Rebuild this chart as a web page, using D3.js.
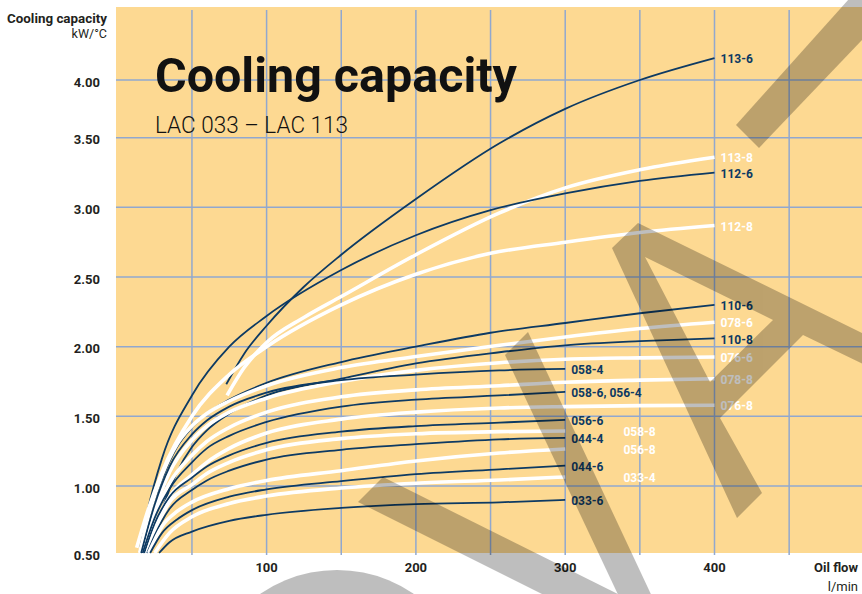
<!DOCTYPE html>
<html>
<head>
<meta charset="utf-8">
<script src="https://cdn.jsdelivr.net/npm/d3@7"></script>
<style>
  body { margin: 0; background: #fff; }
  svg { display: block; font-family: Roboto, "DejaVu Sans", sans-serif; }
</style>
</head>
<body>
<svg id="chart" width="862" height="594"></svg>
<script>
// ticks
var yTicks = [0.5, 1, 1.5, 2, 2.5, 3, 3.5, 4];
var xGrid = [50, 100, 150, 200, 250, 300, 350, 400, 450];
var xTickLabels = [100, 200, 300, 400];

// curves: [oil flow l/min, capacity kW/°C]
var c113_6 = [[73,1.73],[85,1.95],[100,2.15],[125,2.43],[150,2.66],[200,3.06],[256,3.46],[300,3.75],[350,4.0],[400,4.19]];
var c113_8 = [[73.5,1.65],[85,1.85],[100,2.03],[125,2.21],[150,2.36],[200,2.66],[256,2.96],[300,3.14],[350,3.27],[400,3.36]];
var c112_6 = [[15,0.52],[20,0.8],[30,1.2],[50,1.65],[75,2.0],[100,2.22],[150,2.55],[200,2.8],[250,2.98],[300,3.1],[350,3.19],[400,3.25]];
var c112_8 = [[13,0.54],[20,0.8],[30,1.1],[50,1.5],[75,1.8],[100,2.0],[150,2.3],[200,2.52],[250,2.67],[300,2.75],[350,2.82],[400,2.87]];
var c110_6 = [[16,0.5],[20,0.72],[30,1.05],[40,1.28],[50,1.42],[60,1.52],[75,1.62],[100,1.74],[150,1.89],[200,2.0],[250,2.1],[300,2.17],[350,2.24],[400,2.3]];
var c078_6 = [[15,0.5],[20,0.74],[30,1.08],[40,1.3],[50,1.43],[60,1.52],[75,1.61],[100,1.72],[150,1.85],[200,1.93],[256,2.01],[300,2.07],[350,2.13],[400,2.175]];
var c110_8 = [[25,0.62],[30,0.82],[40,1.1],[50,1.28],[60,1.4],[75,1.52],[100,1.65],[150,1.77],[200,1.88],[256,1.96],[300,2.01],[350,2.04],[400,2.06]];
var c076_6 = [[17,0.5],[25,0.82],[35,1.1],[50,1.33],[60,1.43],[75,1.53],[100,1.63],[150,1.75],[200,1.83],[256,1.885],[300,1.91],[350,1.92],[400,1.926]];
var c058_4 = [[16,0.5],[25,0.86],[35,1.14],[50,1.37],[60,1.47],[75,1.57],[100,1.67],[150,1.76],[200,1.80],[256,1.83],[300,1.84]];
var c078_8 = [[18,0.5],[25,0.78],[35,1.02],[50,1.22],[60,1.32],[75,1.42],[100,1.53],[150,1.64],[200,1.69],[256,1.72],[300,1.745],[350,1.76],[400,1.77]];
var c058_6 = [[17,0.5],[25,0.76],[35,0.98],[50,1.17],[60,1.27],[75,1.36],[100,1.46],[150,1.57],[200,1.62],[256,1.65],[300,1.675]];
var c076_8 = [[19,0.5],[25,0.7],[35,0.92],[50,1.08],[60,1.17],[75,1.27],[100,1.38],[150,1.48],[200,1.53],[256,1.56],[300,1.57],[350,1.577],[400,1.58]];
var c056_6 = [[18,0.5],[25,0.72],[35,0.92],[50,1.06],[60,1.14],[75,1.22],[100,1.31],[150,1.39],[200,1.43],[256,1.455],[300,1.474]];
var c058_8 = [[20,0.5],[25,0.66],[35,0.88],[50,1.01],[60,1.09],[75,1.17],[100,1.26],[150,1.34],[200,1.375],[256,1.39],[300,1.395]];
var c044_4 = [[20,0.5],[25,0.63],[35,0.83],[50,0.97],[60,1.04],[75,1.11],[100,1.19],[150,1.26],[200,1.3],[256,1.335],[300,1.345]];
var c056_8 = [[21,0.5],[30,0.7],[40,0.81],[50,0.88],[75,0.98],[100,1.04],[150,1.11],[200,1.18],[256,1.237],[300,1.266]];
var c044_6 = [[22,0.5],[30,0.65],[40,0.75],[50,0.82],[75,0.92],[100,0.975],[150,1.035],[200,1.085],[256,1.12],[300,1.146]];
var c033_4 = [[25,0.5],[35,0.65],[50,0.77],[75,0.87],[100,0.925],[150,0.985],[200,1.02],[256,1.043],[300,1.065]];
var c033_6 = [[28,0.5],[35,0.58],[50,0.66],[75,0.74],[100,0.785],[150,0.836],[200,0.865],[256,0.878],[300,0.896]];

var seriesNames = ["113-6","113-8","112-6","112-8","110-6","078-6","110-8","076-6","058-4","078-8",
                   "058-6, 056-4","076-8","056-6","058-8","044-4","056-8","044-6","033-4","033-6"];
var seriesTone  = ["d","w","d","w","d","w","d","w","d","w","d","w","d","w","d","w","d","w","d"];
var seriesData  = [c113_6,c113_8,c112_6,c112_8,c110_6,c078_6,c110_8,c076_6,c058_4,c078_8,
                   c058_6,c076_8,c056_6,c058_8,c044_4,c056_8,c044_6,c033_4,c033_6];
// labels that sit out to the right of their curve end
var farLabels = ["058-8","056-8","033-4"];

var W = 862, H = 594;
var svg = d3.select("#chart");
var x = d3.scaleLinear().domain([0, 500]).range([117.3, 863.8]);
var y = d3.scaleLinear().domain([0.5, 1, 3.5, 4]).range([553, 486, 137.7, 80]);

var navy = "#0d3a63";

// plot background
svg.append("rect").attr("x", 116).attr("y", 7).attr("width", W - 116).attr("height", 546)
  .attr("fill", "#fdd992");

// grid
svg.append("g").selectAll("line").data(xGrid).join("line")
  .attr("x1", d => x(d)).attr("x2", d => x(d))
  .attr("y1", 10).attr("y2", 555)
  .attr("stroke", "#91a8cf").attr("stroke-width", 1.5);
svg.append("g").selectAll("line").data(yTicks.slice(1)).join("line")
  .attr("x1", 116).attr("x2", W)
  .attr("y1", d => y(d)).attr("y2", d => y(d))
  .attr("stroke", "#91a8cf").attr("stroke-width", 1.5);

// title
svg.append("text").attr("x", 155).attr("y", 92).text("Cooling capacity")
  .attr("font-size", 48).attr("font-weight", 700).attr("fill", "#111")
  .attr("textLength", 362).attr("lengthAdjust", "spacingAndGlyphs");
svg.append("text").attr("x", 155).attr("y", 133).text("LAC 033 \u2013 LAC 113")
  .attr("font-size", 24).attr("font-weight", 300).attr("fill", "#111")
  .attr("textLength", 193).attr("lengthAdjust", "spacingAndGlyphs");

// axis texts
svg.append("text").attr("x", 107).attr("y", 23).attr("text-anchor", "end")
  .text("Cooling capacity").attr("font-size", 12.5).attr("font-weight", 700).attr("fill", "#231f20")
  .attr("textLength", 100).attr("lengthAdjust", "spacingAndGlyphs");
svg.append("text").attr("x", 107).attr("y", 38).attr("text-anchor", "end")
  .text("kW/\u00b0C").attr("font-size", 12.5).attr("fill", "#231f20");
svg.append("g").selectAll("text").data(yTicks).join("text")
  .attr("x", 100).attr("y", d => y(d) + 2).attr("dy", "0.35em").attr("text-anchor", "end")
  .text(d => d.toFixed(2)).attr("font-size", 13).attr("font-weight", 700).attr("fill", "#231f20");
svg.append("g").selectAll("text").data(xTickLabels).join("text")
  .attr("x", d => x(d)).attr("y", 572).attr("text-anchor", "middle")
  .text(d => d).attr("font-size", 13).attr("font-weight", 700).attr("fill", "#231f20");
svg.append("text").attr("x", 858).attr("y", 572).attr("text-anchor", "end")
  .text("Oil flow").attr("font-size", 13).attr("font-weight", 700).attr("fill", "#231f20");
svg.append("text").attr("x", 858).attr("y", 591).attr("text-anchor", "end")
  .text("l/min").attr("font-size", 13).attr("fill", "#231f20");

// curves
var line = d3.line().x(d => x(d[0])).y(d => y(d[1])).curve(d3.curveMonotoneX);
var curves = svg.append("g");
seriesData.forEach(function (pts, i) {
  curves.append("path").attr("d", line(pts)).attr("fill", "none")
    .attr("stroke", seriesTone[i] == "d" ? navy : "#fff")
    .attr("stroke-width", seriesTone[i] == "d" ? 1.8 : 3.6);
});
seriesData.forEach(function (pts, i) {
  var last = pts[pts.length - 1];
  var lx = farLabels.indexOf(seriesNames[i]) >= 0 ? x(339) : x(last[0]) + 6;
  curves.append("text").attr("x", lx).attr("y", y(last[1]) + 1).attr("dy", "0.35em")
    .text(seriesNames[i]).attr("font-size", 12).attr("font-weight", 700)
    .attr("fill", seriesTone[i] == "d" ? navy : "#fff");
});

// grey stamp over the chart
var stamp = svg.append("g").attr("opacity", 0.25).attr("fill", "#000");
stamp.append("polygon").attr("points", "736,125 759,148 905,-5 875,-30");
stamp.append("path").attr("fill-rule", "evenodd")
  .attr("d", "M737,518 L612,248 L638,223 L960,381 L960,411 L803,335 L720,418 L762,493 Z " +
             "M645,257 L773,320 L710,382 Z");
stamp.append("polygon").attr("points", "505,355 528,332 663,620 630,620");
stamp.append("polygon").attr("points", "358,502 383,477 650,610 650,648");
stamp.append("circle").attr("cx", 337).attr("cy", 705).attr("r", 135);
</script>
</body>
</html>
